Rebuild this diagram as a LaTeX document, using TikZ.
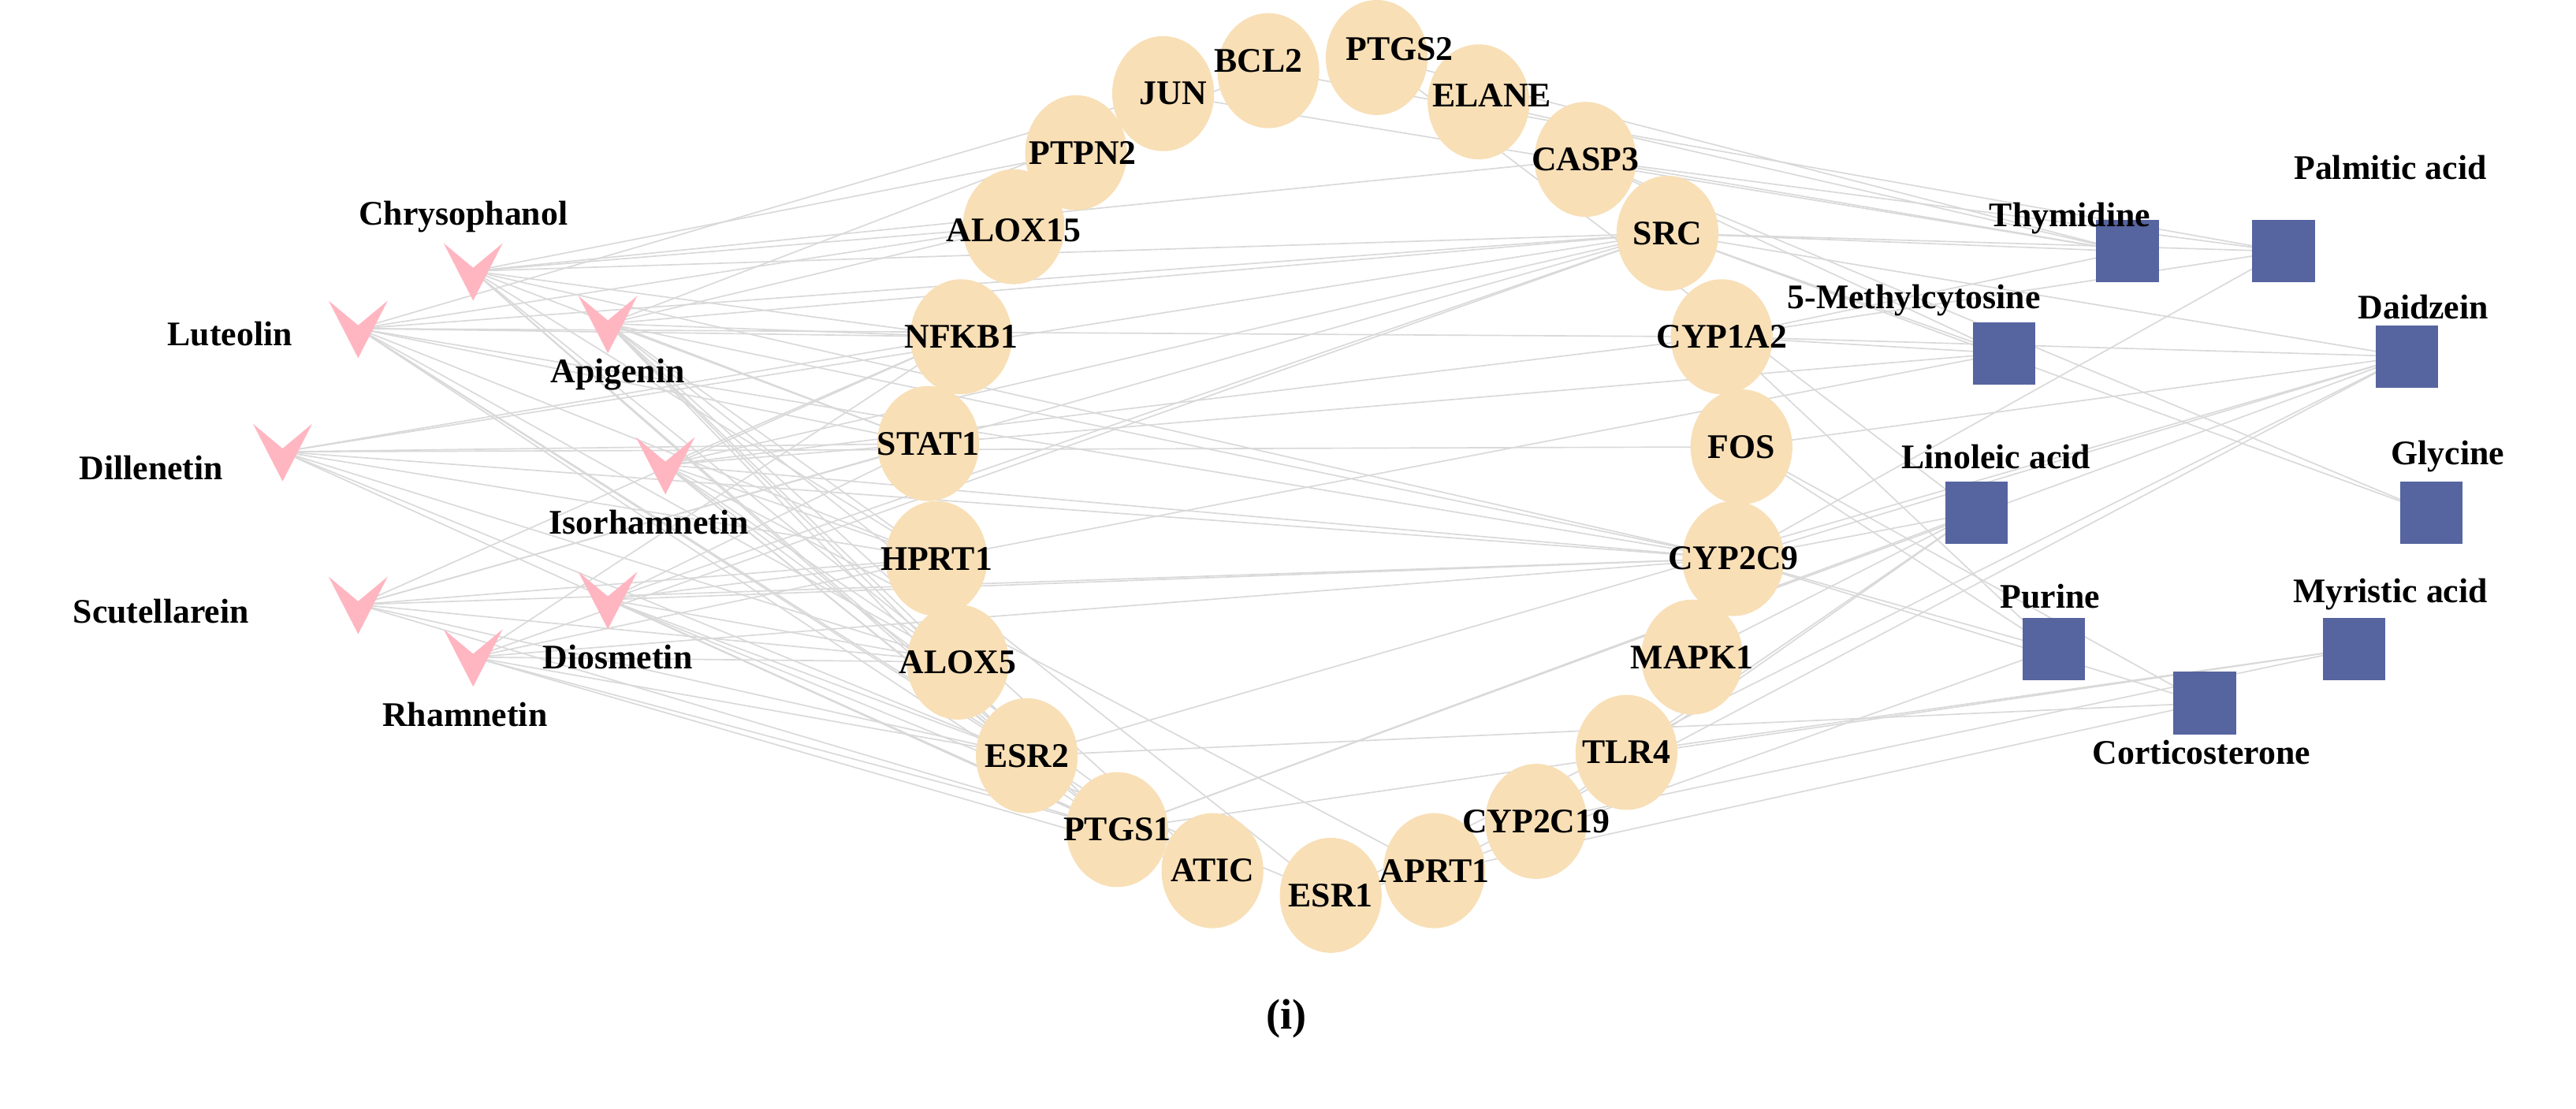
\documentclass[tikz,border=0pt]{standalone}
\usepackage{fontspec}
\setmainfont{Liberation Serif}
\usetikzlibrary{shapes.geometric,backgrounds}
\definecolor{herbpink}{HTML}{FFB6C1}
\definecolor{targetfill}{HTML}{F8DFB6}
\definecolor{compblue}{HTML}{5664A0}
\definecolor{linkgray}{HTML}{D9D9D9}
\tikzset{
  target/.style={ellipse,fill=targetfill,minimum width=62pt,minimum height=70pt,inner sep=0pt},
  comp/.style={rectangle,fill=compblue,minimum size=38pt,inner sep=0pt},
  lbl/.style={font=\fontsize{21}{23}\selectfont\bfseries,inner sep=1pt},
  link/.style={linkgray,line width=0.8pt},
  pics/vee/.style={code={\fill[herbpink] (-18,-17) -- (0,-2) -- (18,-17) -- (0,18) -- cycle;}}
}
\begin{document}
\begin{tikzpicture}[x=1pt,y=-1pt]
  \useasboundingbox (0,0) rectangle (1568,675);
  % herbs
  \foreach \n/\x/\y in {chry/288/165,lut/218/200,api/370/197,dill/172/275,
      iso/405/283,scut/218/368,dios/370/365,rham/288/400}
    {\coordinate (\n) at (\x,\y); \pic at (\n) {vee};}
  \node[lbl] (lchry) at (282,132) {Chrysophanol};
  \node[lbl] (llut) at (140,203) {Luteolin};
  \node[lbl] (lapi) at (376,228) {Apigenin};
  \node[lbl] (ldill) at (92,285) {Dillenetin};
  \node[lbl] (liso) at (395,318) {Isorhamnetin};
  \node[lbl] (lscut) at (98,372) {Scutellarein};
  \node[lbl] (ldios) at (376,400) {Diosmetin};
  \node[lbl] (lrham) at (283,435) {Rhamnetin};
  % targets
  \foreach \n/\x/\y/\t in {jun/708/57/JUN,bcl/772/43/BCL2,ptgsb/838/35/PTGS2,
      elane/900/62/ELANE,casp/965/97/CASP3,ptpn/655/93/PTPN2,aloxf/617/138/ALOX15,
      nfkb/585/205/NFKB1,stat/565/270/STAT1,hprt/570/340/HPRT1,aloxv/583/403/ALOX5,
      esrb/625/460/ESR2,ptgsa/680/505/PTGS1,atic/738/530/ATIC,esra/810/545/ESR1,
      aprt/873/530/APRT1,cypc/935/500/CYP2C19,tlr/990/458/TLR4,mapk/1030/400/MAPK1,
      cypn/1055/340/CYP2C9,fos/1060/272/FOS,cypa/1048/205/CYP1A2,src/1015/142/SRC}
    \node[target] (\n) at (\x,\y) {};
  \foreach \n/\dx/\dy/\t in {jun/6/0/JUN,bcl/-6/-6/BCL2,ptgsb/14/-5/PTGS2,
      elane/8/-4/ELANE,casp/0/0/CASP3,ptpn/4/0/PTPN2,aloxf/0/2/ALOX15,
      nfkb/0/0/NFKB1,stat/0/0/STAT1,hprt/0/0/HPRT1,aloxv/0/0/ALOX5,
      esrb/0/0/ESR2,ptgsa/0/0/PTGS1,atic/0/0/ATIC,esra/0/0/ESR1,
      aprt/0/0/APRT1,cypc/0/0/CYP2C19,tlr/0/0/TLR4,mapk/0/0/MAPK1,
      cypn/0/0/CYP2C9,fos/0/0/FOS,cypa/0/0/CYP1A2,src/0/0/SRC}
    \node[lbl] (l\n) at ([shift={(\dx,\dy)}]\n.center) {\t};
  % compounds
  \foreach \n/\x/\y in {thym/1295/153,palm/1390/153,meth/1220/215,daid/1465/217,
      lino/1203/312,gly/1480/312,pur/1250/395,myr/1433/395,cort/1342/428}
    \node[comp] (\n) at (\x,\y) {};
  \node[lbl] (lthym) at (1260,133) {Thymidine};
  \node[lbl] (lpalm) at (1455,102) {Palmitic acid};
  \node[lbl] (lmeth) at (1165,183) {5-Methylcytosine};
  \node[lbl] (ldaid) at (1475,187) {Daidzein};
  \node[lbl] (llino) at (1215,278) {Linoleic acid};
  \node[lbl] (lgly) at (1490,278) {Glycine};
  \node[lbl] (lpur) at (1248,363) {Purine};
  \node[lbl] (lmyr) at (1455,362) {Myristic acid};
  \node[lbl] (lcort) at (1340,458) {Corticosterone};
  \node[font=\fontsize{26}{28}\selectfont\bfseries] (cap) at (783,620) {(i)};
  % links
  \begin{pgfonlayer}{background}
    \foreach \h/\ts in {
        chry/{ptpn,aloxf,nfkb,stat,hprt,aloxv,esrb,ptgsa,src,cypn,casp},
        lut/{aloxf,nfkb,stat,hprt,aloxv,esrb,ptgsa,atic,src,cypn,cypa,jun},
        api/{aloxf,nfkb,stat,hprt,aloxv,esrb,ptgsa,atic,esra,src,cypn,bcl},
        dill/{nfkb,stat,hprt,aloxv,esrb,ptgsa,src,cypn,fos},
        iso/{nfkb,stat,hprt,aloxv,esrb,ptgsa,atic,aprt,cypn,src,cypa},
        scut/{stat,hprt,aloxv,esrb,ptgsa,src,cypn,nfkb},
        dios/{stat,hprt,aloxv,esrb,ptgsa,atic,esra,cypn,src},
        rham/{hprt,aloxv,esrb,ptgsa,atic,cypn,src,nfkb},
        thym/{elane,casp,src,cypa,ptgsb,jun},
        palm/{casp,src,cypn,bcl,cypa},
        meth/{src,cypa,hprt,stat,casp},
        daid/{cypa,cypn,esrb,esra,aprt,ptgsa,src,fos},
        lino/{cypn,cypc,mapk,tlr,ptgsa,ptgsb},
        gly/{src,casp},
        pur/{cypa,fos,aprt,cypn},
        myr/{cypc,tlr,ptgsa},
        cort/{fos,cypn,esra,esrb}}
      \foreach \t in \ts
        \draw[link] (\h.center) -- (\t.center);
  \end{pgfonlayer}
\end{tikzpicture}
\end{document}
